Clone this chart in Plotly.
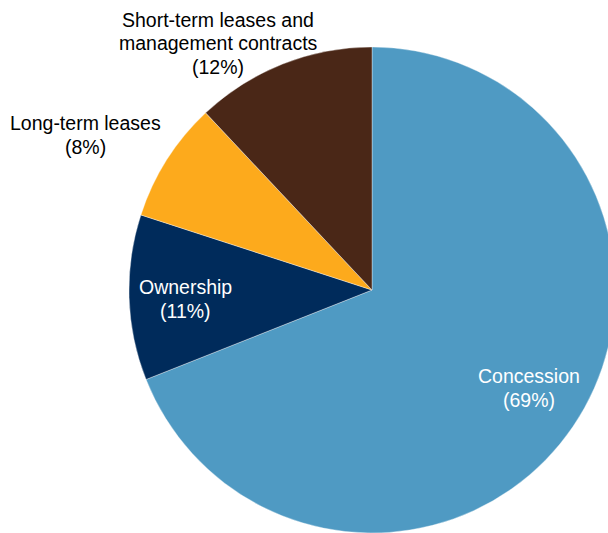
import plotly.graph_objects as go

# Data
labels = ["Concession", "Ownership", "Long-term leases",
          "Short-term leases and<br>management contracts"]
values = [69, 11, 8, 12]
colors = ["#4F9AC3", "#002B5B", "#FDAA1C", "#4A2717"]
text_colors = ["white", "white", "black", "black"]
# label anchor: centre x and first-line centre y, in pixels from top-left
label_pos = [(529, 376), (185, 287), (85, 123), (218, 20)]
line_gap = 23.5

W, H = 620, 533
cx, cy, r = 372, 290, 243

fig = go.Figure(go.Pie(
    labels=labels,
    values=values,
    sort=False,
    direction="clockwise",
    rotation=0,
    textinfo="none",
    hoverinfo="skip",
    marker=dict(colors=colors, line=dict(color="rgba(255,255,255,0.6)", width=0.6)),
    domain=dict(x=[(cx - r) / W, (cx + r) / W],
                y=[(H - cy - r) / H, min(1, (H - cy + r) / H)]),
    showlegend=False,
))

for lab, v, tc, (px, py) in zip(labels, values, text_colors, label_pos):
    lines = lab.split("<br>") + [f"({v}%)"]
    for i, line in enumerate(lines):
        fig.add_annotation(
            x=px / W, y=1 - (py + i * line_gap) / H, xref="paper", yref="paper",
            text=line, showarrow=False,
            xanchor="center", yanchor="middle", align="center",
            font=dict(family="Liberation Sans, Arial, sans-serif", size=19.5, color=tc),
        )

fig.update_layout(
    width=W, height=H, autosize=False,
    margin=dict(l=0, r=0, t=0, b=0),
    paper_bgcolor="white", plot_bgcolor="white",
)

fig.write_html("out.html",
               post_script="document.body.style.overflow='hidden';"
                           "document.documentElement.style.overflow='hidden';"
                           "document.body.style.margin='0';")
